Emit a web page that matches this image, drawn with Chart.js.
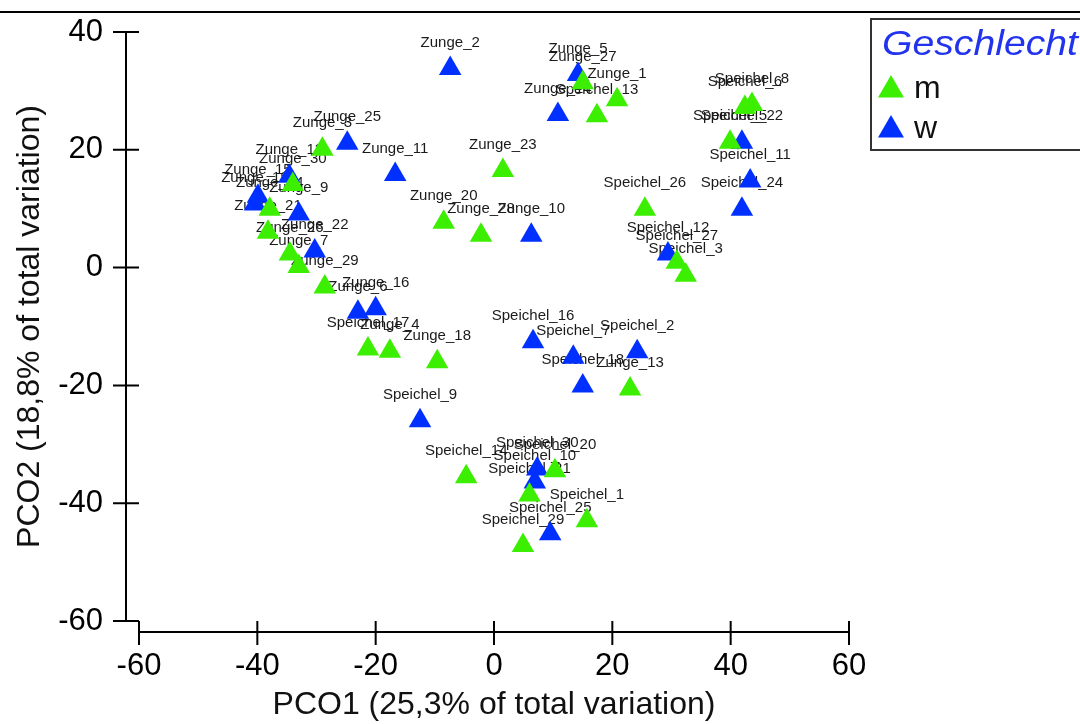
<!DOCTYPE html>
<html>
<head>
<meta charset="utf-8">
<script src="https://cdn.jsdelivr.net/npm/chart.js@4"></script>
<style>
  body { margin: 0; background: #fff; }
  canvas { display: block; }
</style>
</head>
<body>
<canvas id="myChart" width="1080" height="724"></canvas>
<script>
// group m (green)
const labelsM = ['Zunge_27', 'Zunge_1', 'Speichel_13', 'Zunge_3', 'Zunge_23', 'Zunge_20', 'Zunge_28', 'Zunge_30',
    'Zunge_24', 'Zunge_21', 'Zunge_26', 'Zunge_7', 'Zunge_29', 'Speichel_17', 'Zunge_4', 'Zunge_18', 'Zunge_13',
    'Speichel_14', 'Speichel_20', 'Speichel_21', 'Speichel_1', 'Speichel_29', 'Speichel_8', 'Speichel_6',
    'Speichel_5', 'Speichel_26', 'Speichel_27', 'Speichel_3'];
const xM = [15, 20.8, 17.4, -29, 1.5, -8.5, -2.2, -34, -37.9, -38.2, -34.5, -33, -28.6, -21.3, -17.6, -9.6, 23,
    -4.7, 10.3, 6, 15.7, 4.9, 43.6, 42.4, 39.9, 25.5, 30.9, 32.4];
const yM = [31.4, 28.5, 25.8, 20.1, 16.5, 7.7, 5.5, 14.1, 9.9, 6.0, 2.3, 0.2, -3.3, -13.8, -14.2, -16.0, -20.6,
    -35.5, -34.5, -38.6, -43.0, -47.2, 27.7, 27.2, 21.3, 9.9, 0.9, -1.3];

// group w (blue)
const labelsW = ['Zunge_2', 'Zunge_5', 'Zunge_14', 'Zunge_25', 'Zunge_11', 'Zunge_10', 'Zunge_12', 'Zunge_15',
    'Zunge_19', 'Zunge_9', 'Zunge_22', 'Zunge_6', 'Zunge_16', 'Speichel_9', 'Speichel_16', 'Speichel_7',
    'Speichel_2', 'Speichel_18', 'Speichel_30', 'Speichel_10', 'Speichel_25', 'Speichel_22', 'Speichel_11',
    'Speichel_24', 'Speichel_12'];
const xW = [-7.4, 14.2, 10.8, -24.8, -16.7, 6.3, -34.6, -39.9, -40.4, -33, -30.3, -23, -20, -12.5, 6.6, 13.4,
    24.2, 15, 7.3, 6.9, 9.5, 41.9, 43.3, 41.9, 29.4];
const yW = [33.8, 32.8, 26.0, 21.1, 15.8, 5.5, 15.5, 12.1, 10.8, 9.1, 2.8, -7.6, -7.0, -26.0, -12.6, -15.2,
    -14.3, -20.1, -34.2, -36.4, -45.2, 21.3, 14.7, 9.9, 2.3];

const xTicks = [-60, -40, -20, 0, 20, 40, 60];
const yTicks = [-60, -40, -20, 0, 20, 40];

const GREEN = '#3cee00';
const BLUE = '#0030ff';
const FONT = "'Liberation Sans', Arial, sans-serif";

const toPoints = (xs, ys) => xs.map((x, i) => ({ x: x, y: ys[i] }));

// sample names above each triangle, drawn under the markers
const pointLabels = {
    id: 'pointLabels',
    beforeDatasetsDraw(chart) {
        const ctx = chart.ctx;
        ctx.save();
        ctx.font = '15px ' + FONT;
        ctx.fillStyle = '#1a1a1a';
        ctx.textAlign = 'center';
        ctx.textBaseline = 'middle';
        chart.data.datasets.forEach((ds, di) => {
            chart.getDatasetMeta(di).data.forEach((pt, i) => {
                ctx.fillText(ds.names[i], pt.x, pt.y - 26);
            });
        });
        ctx.restore();
    }
};

// detached axis lines with crossing ticks, plus top rule
const frame = {
    id: 'frame',
    afterDraw(chart) {
        const ctx = chart.ctx;
        const xs = chart.scales.x, ys = chart.scales.y;
        const x0 = xs.getPixelForValue(-60), x1 = xs.getPixelForValue(60);
        const y0 = ys.getPixelForValue(40), y1 = ys.getPixelForValue(-60);
        ctx.save();
        ctx.strokeStyle = '#000';
        ctx.lineWidth = 2;
        ctx.beginPath();
        ctx.moveTo(x0 - 13, y0); ctx.lineTo(x0 - 13, y1);
        yTicks.forEach(v => {
            const p = ys.getPixelForValue(v);
            ctx.moveTo(x0 - 26, p); ctx.lineTo(x0, p);
        });
        ctx.moveTo(x0, y1 + 11); ctx.lineTo(x1, y1 + 11);
        xTicks.forEach(v => {
            const p = xs.getPixelForValue(v);
            ctx.moveTo(p, y1); ctx.lineTo(p, y1 + 24);
        });
        ctx.stroke();
        ctx.fillStyle = '#000';
        ctx.fillRect(0, 11, chart.width, 2);
        ctx.restore();
    }
};

function triangle(ctx, cx, cy, r, color) {
    ctx.beginPath();
    ctx.moveTo(cx, cy - r);
    ctx.lineTo(cx + r * Math.sqrt(3) / 2, cy + r / 2);
    ctx.lineTo(cx - r * Math.sqrt(3) / 2, cy + r / 2);
    ctx.closePath();
    ctx.fillStyle = color;
    ctx.fill();
}

const legendBox = {
    id: 'legendBox',
    afterDraw(chart) {
        const ctx = chart.ctx;
        ctx.save();
        ctx.strokeStyle = '#333';
        ctx.lineWidth = 2;
        ctx.strokeRect(871, 19, 230, 131);
        ctx.font = 'italic 35px ' + FONT;
        ctx.fillStyle = '#2233ee';
        ctx.textBaseline = 'alphabetic';
        const w = ctx.measureText('Geschlecht').width;
        ctx.translate(882, 55);
        ctx.scale(196 / w, 1);
        ctx.fillText('Geschlecht', 0, 0);
        ctx.restore();

        ctx.save();
        chart.data.datasets.forEach((ds, i) => {
            const cy = 90 + i * 40;
            triangle(ctx, 891, cy, 15, ds.backgroundColor);
            ctx.font = '32px ' + FONT;
            ctx.fillStyle = '#111';
            ctx.textBaseline = 'alphabetic';
            ctx.fillText(ds.label, 914, cy + 8);
        });
        ctx.restore();
    }
};

const ctx = document.getElementById('myChart').getContext('2d');

new Chart(ctx, {
    type: 'scatter',
    data: {
        datasets: [{
            label: 'm',
            names: labelsM,
            data: toPoints(xM, yM),
            backgroundColor: GREEN,
            borderWidth: 0,
            pointStyle: 'triangle',
            pointRadius: 13
        }, {
            label: 'w',
            names: labelsW,
            data: toPoints(xW, yW),
            backgroundColor: BLUE,
            borderWidth: 0,
            pointStyle: 'triangle',
            pointRadius: 13
        }]
    },
    options: {
        responsive: false,
        animation: false,
        layout: {
            padding: { left: 0, top: 32, right: 231, bottom: 0 }
        },
        plugins: {
            legend: { display: false },
            tooltip: { enabled: false }
        },
        scales: {
            x: {
                type: 'linear',
                min: -60,
                max: 60,
                afterFit: s => { s.height = 103; s.paddingLeft = 0; s.paddingRight = 0; },
                afterBuildTicks: s => { s.ticks = xTicks.map(v => ({ value: v })); },
                grid: { display: false, drawTicks: false },
                border: { display: false },
                ticks: { font: { family: FONT, size: 31 }, color: '#000', padding: 27, maxRotation: 0 },
                title: {
                    display: true,
                    text: 'PCO1 (25,3% of total variation)',
                    font: { family: FONT, size: 32 },
                    color: '#111',
                    padding: 0
                }
            },
            y: {
                type: 'linear',
                min: -60,
                max: 40,
                afterFit: s => { s.width = 139; s.paddingTop = 0; s.paddingBottom = 0; },
                afterBuildTicks: s => { s.ticks = yTicks.map(v => ({ value: v })); },
                grid: { display: false, drawTicks: false },
                border: { display: false },
                ticks: { font: { family: FONT, size: 31 }, color: '#000', padding: 36 },
                title: {
                    display: true,
                    text: 'PCO2 (18,8% of total variation)',
                    font: { family: FONT, size: 32 },
                    color: '#111',
                    padding: { top: 11, bottom: 0 }
                }
            }
        }
    },
    plugins: [pointLabels, frame, legendBox]
});
</script>
</body>
</html>
